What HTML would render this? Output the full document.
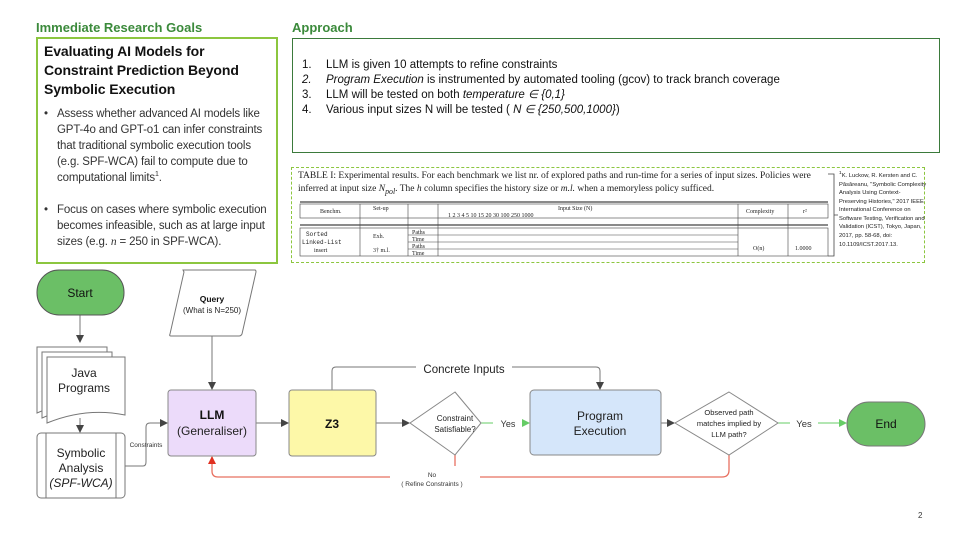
<!DOCTYPE html>
<html><head><meta charset="utf-8"><style>
body{margin:0;width:960px;height:540px;background:#fff;position:relative;overflow:hidden;font-family:"Liberation Sans",sans-serif;}
.a{position:absolute;}
.h{color:#3b8a3b;font-weight:bold;font-size:13px;}
.t{font-size:11.5px;color:#333;line-height:16px;letter-spacing:-0.15px;}
</style></head><body>
<div class="a h" style="left:36px;top:20px;">Immediate Research Goals</div>
<div class="a" style="left:36px;top:37px;width:238px;height:223px;border:2px solid #8cc63f;"></div>
<div class="a" style="left:44px;top:42px;font-weight:bold;font-size:14px;line-height:19px;color:#111;letter-spacing:-0.1px;">Evaluating AI Models for<br>Constraint Prediction Beyond<br>Symbolic Execution</div>
<div class="a t" style="left:44px;top:106px;width:232px;white-space:nowrap;">
<div style="position:relative;padding-left:13px;"><span style="position:absolute;left:0;">•</span>Assess whether advanced AI models like<br>GPT-4o and GPT-o1 can infer constraints<br>that traditional symbolic execution tools<br>(e.g. SPF-WCA) fail to compute due to<br>computational limits<sup style="font-size:7px;line-height:0">1</sup>.</div>
<div style="position:relative;padding-left:13px;margin-top:16px;"><span style="position:absolute;left:0;">•</span>Focus on cases where symbolic execution<br>becomes infeasible, such as at large input<br>sizes (e.g. <i style="font-family:'Liberation Serif',serif">n</i> = 250 in SPF-WCA).</div>
</div>
<div class="a h" style="left:292px;top:20px;">Approach</div>
<div class="a" style="left:292px;top:38px;width:646px;height:113px;border:1.5px solid #3b7a3b;"></div>
<div class="a t" style="left:302px;top:58px;line-height:15px;color:#111;font-size:11.5px;letter-spacing:0;">
<div><span style="display:inline-block;width:24px">1.</span>LLM is given 10 attempts to refine constraints</div>
<div><span style="display:inline-block;width:24px"><i>2.</i></span><i>Program Execution</i> is instrumented by automated tooling (gcov) to track branch coverage</div>
<div><span style="display:inline-block;width:24px">3.</span>LLM will be tested on both <i>temperature ∈ {0,1}</i></div>
<div><span style="display:inline-block;width:24px">4.</span>Various input sizes N will be tested ( <i>N ∈ {250,500,1000}</i>)</div>
</div>
<div class="a" style="left:291px;top:167px;width:632px;height:94px;border:1.5px dashed #8cc63f;"></div>
<div class="a" style="left:298px;top:170px;width:530px;font-family:'Liberation Serif',serif;font-size:9.5px;line-height:13px;color:#222;">TABLE I: Experimental results. For each benchmark we list nr. of explored paths and run-time for a series of input sizes. Policies were inferred at input size <i>N<sub>pol</sub></i>. The <i>h</i> column specifies the history size or <i>m.l.</i> when a memoryless policy sufficed.</div>
<svg class="a" style="left:298px;top:200px" width="532" height="60">
<g stroke="#444" stroke-width="0.6" fill="none">
<line x1="2" y1="2" x2="530" y2="2" stroke-width="1.2"/><rect x="2" y="4" width="528" height="14"/>
<line x1="2" y1="25" x2="530" y2="25" stroke-width="1.2"/><rect x="2" y="28" width="528" height="28"/>
<line x1="62" y1="4" x2="62" y2="56"/><line x1="110" y1="4" x2="110" y2="56"/><line x1="140" y1="4" x2="140" y2="56"/>
<line x1="440" y1="4" x2="440" y2="56"/><line x1="490" y1="4" x2="490" y2="56"/>
<line x1="110" y1="35" x2="440" y2="35"/><line x1="110" y1="42" x2="440" y2="42"/><line x1="110" y1="49" x2="440" y2="49"/>
</g>
<g font-size="6" fill="#222" font-family="Liberation Serif,serif">
<text x="22" y="13">Benchm.</text><text x="75" y="10">Set-up</text><text x="260" y="10">Input Size (N)</text><text x="448" y="13">Complexity</text><text x="505" y="13">r²</text>
<text x="150" y="17">1    2    3    4    5     10    15   20   30   100   250  1000</text>
<text x="8" y="36" font-family="Liberation Mono">Sorted</text><text x="4" y="44" font-family="Liberation Mono">Linked-List</text><text x="16" y="52">insert</text>
<text x="75" y="38">Exh.</text><text x="75" y="52">3†   m.l.</text><text x="455" y="50">O(n)</text><text x="497" y="50">1.0000</text>
<text x="114" y="34">Paths</text><text x="114" y="41">Time</text><text x="114" y="48">Paths</text><text x="114" y="55">Time</text>
</g></svg>
<svg class="a" style="left:826px;top:172px" width="14" height="90"><path d="M2 2 H8 V84 H2 M8 43 H12" stroke="#444" fill="none" stroke-width="0.8"/></svg>
<div class="a" style="left:839px;top:170px;width:88px;font-size:5.8px;line-height:8.6px;color:#222;"><sup>1</sup>K. Luckow, R. Kersten and C. Păsăreanu, "Symbolic Complexity Analysis Using Context-Preserving Histories," 2017 IEEE International Conference on Software Testing, Verification and Validation (ICST), Tokyo, Japan, 2017, pp. 58-68, doi: 10.1109/ICST.2017.13.</div>

<svg class="a" style="left:0;top:0" width="960" height="540" font-family="Liberation Sans,sans-serif">
<defs><marker id="ar" markerWidth="8" markerHeight="8" refX="7" refY="4" orient="auto" markerUnits="userSpaceOnUse"><path d="M0 0L8 4L0 8z" fill="#444"/></marker>
<marker id="ag" markerWidth="8" markerHeight="8" refX="7" refY="4" orient="auto" markerUnits="userSpaceOnUse"><path d="M0 0L8 4L0 8z" fill="#6c6"/></marker>
<marker id="arr" markerWidth="8" markerHeight="8" refX="7" refY="4" orient="auto" markerUnits="userSpaceOnUse"><path d="M0 0L8 4L0 8z" fill="#e03020"/></marker></defs>
<g stroke="#777" stroke-width="1" fill="none">
<line x1="80" y1="315" x2="80" y2="342" marker-end="url(#ar)"/>
<line x1="80" y1="418" x2="80" y2="432" marker-end="url(#ar)"/>
<line x1="212" y1="336" x2="212" y2="389" marker-end="url(#ar)"/>
<path d="M125 466 H143 Q146 466 146 462 V427 Q146 423 150 423 H167" marker-end="url(#ar)"/>
<line x1="256" y1="423" x2="288" y2="423" marker-end="url(#ar)"/>
<line x1="376" y1="423" x2="409" y2="423" marker-end="url(#ar)"/>
<line x1="661" y1="423" x2="674" y2="423" marker-end="url(#ar)"/>
<path d="M332 390 V371 Q332 367 336 367 H416 M512 367 H596 Q600 367 600 371 V389" marker-end="url(#ar)"/>
</g>
<g stroke="#6c6" stroke-width="1" fill="none">
<path d="M480 423 H493 M524 423 H529" marker-end="url(#ag)"/>
<path d="M778 423 H790 M818 423 H846" marker-end="url(#ag)"/>
</g>
<g stroke="#e87060" stroke-width="1.3" fill="none">
<path d="M455 455 V466"/>
<path d="M729 455 V470 Q729 477 722 477 H480 M390 477 H218 Q212 477 212 471 V457" marker-end="url(#arr)"/>
</g>
<rect x="37" y="270" width="87" height="45" rx="22" fill="#6bbf66" stroke="#555"/>
<text x="80" y="297" text-anchor="middle" font-size="12" fill="#111">Start</text>
<g fill="#fff" stroke="#777">
<path d="M37 347 h70 v58 q-35 -8 -70 8z"/><path d="M42 352 h70 v58 q-35 -8 -70 8z"/>
<path d="M47 357 h78 v58 q-39 -8 -78 8z"/>
<rect x="37" y="433" width="88" height="65" rx="4"/>
<line x1="46" y1="433" x2="46" y2="498"/><line x1="116" y1="433" x2="116" y2="498"/>
<path d="M183 270 H255 Q256 270 256 272 L242 334 Q241 336 239 336 H171 Q169 336 170 334 L184 272z"/>
</g>
<text x="84" y="377" text-anchor="middle" font-size="12" fill="#222">Java</text>
<text x="84" y="392" text-anchor="middle" font-size="12" fill="#222">Programs</text>
<text x="81" y="457" text-anchor="middle" font-size="12" fill="#222">Symbolic</text>
<text x="81" y="472" text-anchor="middle" font-size="12" fill="#222">Analysis</text>
<text x="81" y="487" text-anchor="middle" font-size="12" font-style="italic" fill="#222">(SPF-WCA)</text>
<text x="212" y="302" text-anchor="middle" font-size="8.5" font-weight="bold" fill="#111">Query</text>
<text x="212" y="313" text-anchor="middle" font-size="8" fill="#222">(What is N=250)</text>
<text x="146" y="447" text-anchor="middle" font-size="6.5" fill="#333">Constraints</text>
<rect x="168" y="390" width="88" height="66" rx="3" fill="#ecdbfa" stroke="#888"/>
<text x="212" y="419" text-anchor="middle" font-size="12" font-weight="bold" fill="#111">LLM</text>
<text x="212" y="435" text-anchor="middle" font-size="12" fill="#222">(Generaliser)</text>
<rect x="289" y="390" width="87" height="66" rx="3" fill="#fdf8a8" stroke="#888"/>
<text x="332" y="428" text-anchor="middle" font-size="12" font-weight="bold" fill="#111">Z3</text>
<path d="M455 392 L481 423 L455 455 L410 423 Z" fill="#fff" stroke="#888"/>
<text x="455" y="421" text-anchor="middle" font-size="8" fill="#222">Constraint</text>
<text x="455" y="432" text-anchor="middle" font-size="8" fill="#222">Satisfiable?</text>
<text x="508" y="427" text-anchor="middle" font-size="9" fill="#333">Yes</text>
<text x="464" y="373" text-anchor="middle" font-size="11.5" fill="#222">Concrete Inputs</text>
<rect x="530" y="390" width="131" height="65" rx="4" fill="#d5e6fa" stroke="#888"/>
<text x="600" y="420" text-anchor="middle" font-size="12" fill="#222">Program</text>
<text x="600" y="435" text-anchor="middle" font-size="12" fill="#222">Execution</text>
<path d="M729 392 L778 423 L729 455 L675 423 Z" fill="#fff" stroke="#888"/>
<text x="729" y="415" text-anchor="middle" font-size="7.5" fill="#222">Observed path</text>
<text x="729" y="426" text-anchor="middle" font-size="7.5" fill="#222">matches implied by</text>
<text x="729" y="437" text-anchor="middle" font-size="7.5" fill="#222">LLM path?</text>
<text x="804" y="427" text-anchor="middle" font-size="9.5" fill="#333">Yes</text>
<rect x="847" y="402" width="78" height="44" rx="22" fill="#6bbf66" stroke="#777"/>
<text x="886" y="428" text-anchor="middle" font-size="12" fill="#111">End</text>
<text x="432" y="477" text-anchor="middle" font-size="6.5" fill="#333">No</text>
<text x="432" y="486" text-anchor="middle" font-size="6.5" fill="#333">( Refine Constraints )</text>
<text x="918" y="518" font-size="8" fill="#333">2</text>
</svg>
</body></html>
